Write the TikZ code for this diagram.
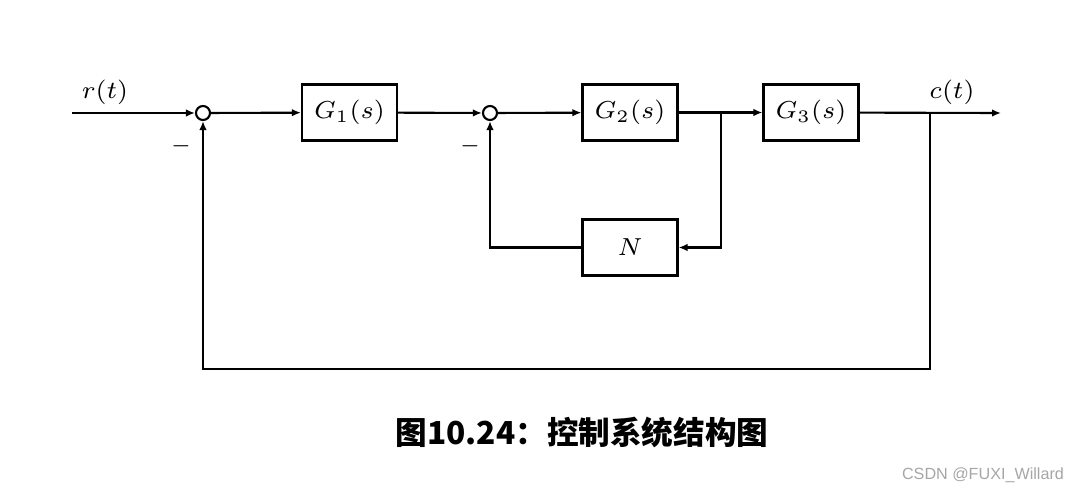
\documentclass[tikz,border=0pt]{standalone}
\usepackage{fontspec}
\setsansfont{Liberation Sans}
\newfontfamily\cjk{Noto Sans CJK SC}
\usepackage{tikz}
\usetikzlibrary{arrows.meta, positioning}

\begin{document}
\begin{tikzpicture}[x=0.1mm, y=-0.1mm,
    block/.style={draw, line width=0.6pt, minimum width=9.5mm, minimum height=5.6mm,
                  inner sep=0pt, font=\fontsize{7.2}{9}\selectfont},
    sumnode/.style={draw, circle, line width=0.6pt, minimum size=1.4mm, inner sep=0pt},
    line/.style={-{Latex[length=0.9mm, width=0.75mm]}, line width=0.6pt},
    lab/.style={font=\fontsize{7.2}{9}\selectfont, inner sep=0pt},
    sgn/.style={font=\fontsize{6}{7}\selectfont, inner sep=0pt}]

    \useasboundingbox (0,0) rectangle (1079,493);

    % Forward path
    \coordinate (in) at (72,113);
    \node[sumnode] (s1) at (203,113) {};
    \node[block]   (g1) at (349.5,112.5) {$G_1(s)$};
    \node[sumnode] (s2) at (490,113) {};
    \node[block]   (g2) at (630,112.5) {$G_2(s)$};
    \node[block]   (g3) at (811,112.5) {$G_3(s)$};
    \coordinate (out) at (1001,113);
    \draw[line] (in) -- (s1);
    \draw[line] (s1) -- (g1);
    \draw[line] (g1) -- (s2);
    \draw[line] (s2) -- (g2);
    \draw[line] (g2) -- (g3);
    \draw[line] (g3) -- (out);

    % Inner loop
    \node[block] (n) at (630,247.5) {$N$};
    \coordinate (b1) at (721,113);
    \draw[line] (b1) |- (n);
    \draw[line] (n) -| (s2);

    % Outer loop
    \coordinate (b2) at (930,113);
    \coordinate (low) at (930,369);
    \draw[line] (b2) -- (low) -| (s1);

    % Labels
    \node[lab] (rl) at (105,92) {$r(t)$};
    \node[lab] (cl) at (952,92) {$c(t)$};
    \node[sgn] (m1) at (181,146) {$-$};
    \node[sgn] (m2) at (470,146) {$-$};
    \node[font=\cjk\bfseries\fontsize{9}{11}\selectfont] (cap) at (582,432)
        {图10.24：控制系统结构图};
    \node[font=\sffamily\fontsize{4.6}{6}\selectfont, text=gray!70] (wm) at (983,475)
        {CSDN @FUXI\_Willard};
\end{tikzpicture}
\end{document}
